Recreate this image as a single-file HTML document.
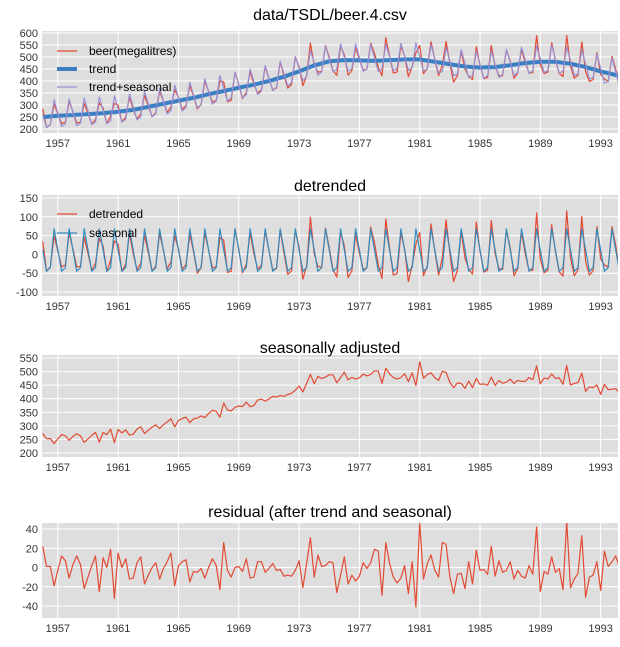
<!DOCTYPE html>
<html><head><meta charset="utf-8">
<style>
body{margin:0;background:#fff;font-family:"Liberation Sans",sans-serif;}
svg{display:block}
</style></head>
<body>
<svg id="chart" width="620" height="647" xmlns="http://www.w3.org/2000/svg"></svg>
<script>
const years=[1956,1957,1958,1959,1960,1961,1962,1963,1964,1965,1966,1967,1968,1969,1970,1971,1972,1973,1974,1975,1976,1977,1978,1979,1980,1981,1982,1983,1984,1985,1986,1987,1988,1989,1990,1991,1992,1993,1994];
const trendByYear=[250,255,258,262,266,272,280,292,305,318,330,345,358,372,385,400,418,440,465,482,487,486,484,487,490,490,480,470,460,456,458,466,475,480,480,472,458,440,425];
const seasonalPattern=[12,-45,-35,68];
const residual=[22,1,1,-19,-3,12,7,-11,3,12,3,-22,-10,2,12,-25,10,0,19,-32,15,0,9,-12,-11,5,11,-17,-8,0,5,-12,-1,6,15,-19,2,6,8,-15,-4,-5,-1,-11,0,9,2,-23,26,-3,-10,0,1,-4,9,-11,-10,6,6,-5,-1,4,-3,-2,-9,-8,-9,-3,7,-21,4,31,-10,13,1,2,6,5,-26,-8,11,-17,-8,-14,-9,5,-1,5,19,17,-29,26,4,-10,-16,-11,2,-27,6,-41,46,-12,4,13,-3,-10,26,24,-10,-27,-7,-6,-22,6,-17,18,-3,-2,-7,22,-9,7,-5,-3,6,-12,-3,-9,-11,2,-7,42,-25,-4,-7,11,-5,-1,-23,48,-21,-12,-6,33,-31,-10,-8,6,-24,17,1,6,12,0];
const xTickYears=[1957,1961,1965,1969,1973,1977,1981,1985,1989,1993];
const yTicks1=[200,250,300,350,400,450,500,550,600];
const yTicks2=[-100,-50,0,50,100,150];
const yTicks3=[200,250,300,350,400,450,500,550];
const yTicks4=[-40,-20,0,20,40];

const NS="http://www.w3.org/2000/svg";
const svg=document.getElementById('chart');
function mk(tag,attrs,parent){const e=document.createElementNS(NS,tag);for(const k in attrs)e.setAttribute(k,attrs[k]);(parent||svg).appendChild(e);return e;}

const n=residual.length;
const tq=[];for(let i=0;i<n;i++)tq.push(1956+i/4);
function trendAt(t){let k=Math.min(Math.floor(t-1956),years.length-2);const f=t-years[k];return trendByYear[k]+(trendByYear[k+1]-trendByYear[k])*f;}
const trend=tq.map(trendAt);
const seasonal=tq.map((t,i)=>seasonalPattern[i%4]);
const beer=tq.map((t,i)=>trend[i]+seasonal[i]+residual[i]);
const detr=beer.map((v,i)=>v-trend[i]);
const sadj=beer.map((v,i)=>v-seasonal[i]);

const X0=42,X1=618,XMIN=1955.95,XMAX=1994.15;
const xs=t=>X0+(t-XMIN)/(XMAX-XMIN)*(X1-X0);

function panel(cfg){
  const g=mk('g',{});
  
  
  const ys=v=>cfg.py0+(v-cfg.vmin)/(cfg.vmax-cfg.vmin)*(cfg.py1-cfg.py0);
  const bg=mk('rect',{x:X0,y:cfg.top,width:X1-X0,height:cfg.bot-cfg.top,fill:'#dedede'},g);
  
  
  cfg.ticks.forEach(v=>{
    const y=ys(v);
    mk('line',{x1:X0,x2:X1,y1:y,y2:y,stroke:'#fff','stroke-width':1},g);
    const tx=mk('text',{x:38,y:y+4,'text-anchor':'end','font-size':11,fill:'#333'},g);
    tx.textContent=v;
    
    
  });
  xTickYears.forEach(yr=>{
    const x=xs(yr);
    mk('line',{x1:x,x2:x,y1:cfg.top,y2:cfg.bot,stroke:'#fff','stroke-width':1},g);
    const tx=mk('text',{x:x,y:cfg.bot+14,'text-anchor':'middle','font-size':11,fill:'#333'},g);
    tx.textContent=yr;
    
    
  });
  const cp='clip-'+cfg.name;
  const c=mk('clipPath',{id:cp},g);mk('rect',{x:X0,y:cfg.top,width:X1-X0,height:cfg.bot-cfg.top},c);
  cfg.series.forEach(s=>{
    const d=s.data.map((v,i)=>(i?'L':'M')+xs(tq[i]).toFixed(1)+','+ys(v).toFixed(1)).join('');
    const p=mk('path',{d:d,fill:'none',stroke:s.color,'stroke-width':s.w,'clip-path':'url(#'+cp+')','stroke-linejoin':'round'},g);
    
    
  });
  const ti=mk('text',{x:330,y:cfg.titleY,'text-anchor':'middle','font-size':16,fill:'#000'},g);
  ti.textContent=cfg.title;
  
  
  if(cfg.legend){
    cfg.legend.forEach((l,k)=>{
      const y=cfg.legY+k*cfg.legDy;
      mk('line',{x1:57,x2:77,y1:y,y2:y,stroke:l.color,'stroke-width':l.w},g);
      const t=mk('text',{x:89,y:y+4,'font-size':12,fill:'#000'},g);
      t.textContent=l.label;
      
      
    });
  }
}
const RED='#e24a33',BLUE='#348abd',PURP='#988ed5';
panel({name:'beer',title:'data/TSDL/beer.4.csv',titleY:20,top:31,bot:133,py0:129,py1:33,vmin:200,vmax:600,ticks:yTicks1,
  series:[{name:'beer',data:beer,color:RED,w:1.2},{name:'trend',data:trend,color:'#3a7fc1',w:4},{name:'trend-seasonal',data:trend.map((v,i)=>v+seasonal[i]),color:PURP,w:1.2}],
  legend:[{label:'beer(megalitres)',color:RED,w:1.2},{label:'trend',color:'#3a7fc1',w:4},{label:'trend+seasonal',color:PURP,w:1.2}],legY:51,legDy:18});
panel({name:'detrended',title:'detrended',titleY:191,top:195,bot:296,py0:292,py1:198,vmin:-100,vmax:150,ticks:yTicks2,
  series:[{name:'detrended',data:detr,color:RED,w:1.2},{name:'seasonal',data:seasonal,color:BLUE,w:1.2}],
  legend:[{label:'detrended',color:RED,w:1.2},{label:'seasonal',color:BLUE,w:1.2}],legY:214,legDy:19});
panel({name:'adjusted',title:'seasonally adjusted',titleY:353,top:355,bot:457,py0:453,py1:358,vmin:200,vmax:550,ticks:yTicks3,
  series:[{name:'seasonally-adjusted',data:sadj,color:RED,w:1.2}]});
panel({name:'residual',title:'residual (after trend and seasonal)',titleY:517,top:523,bot:618,py0:606,py1:529,vmin:-40,vmax:40,ticks:yTicks4,
  series:[{name:'residual',data:residual,color:RED,w:1.2}]});
</script>
</body></html>
